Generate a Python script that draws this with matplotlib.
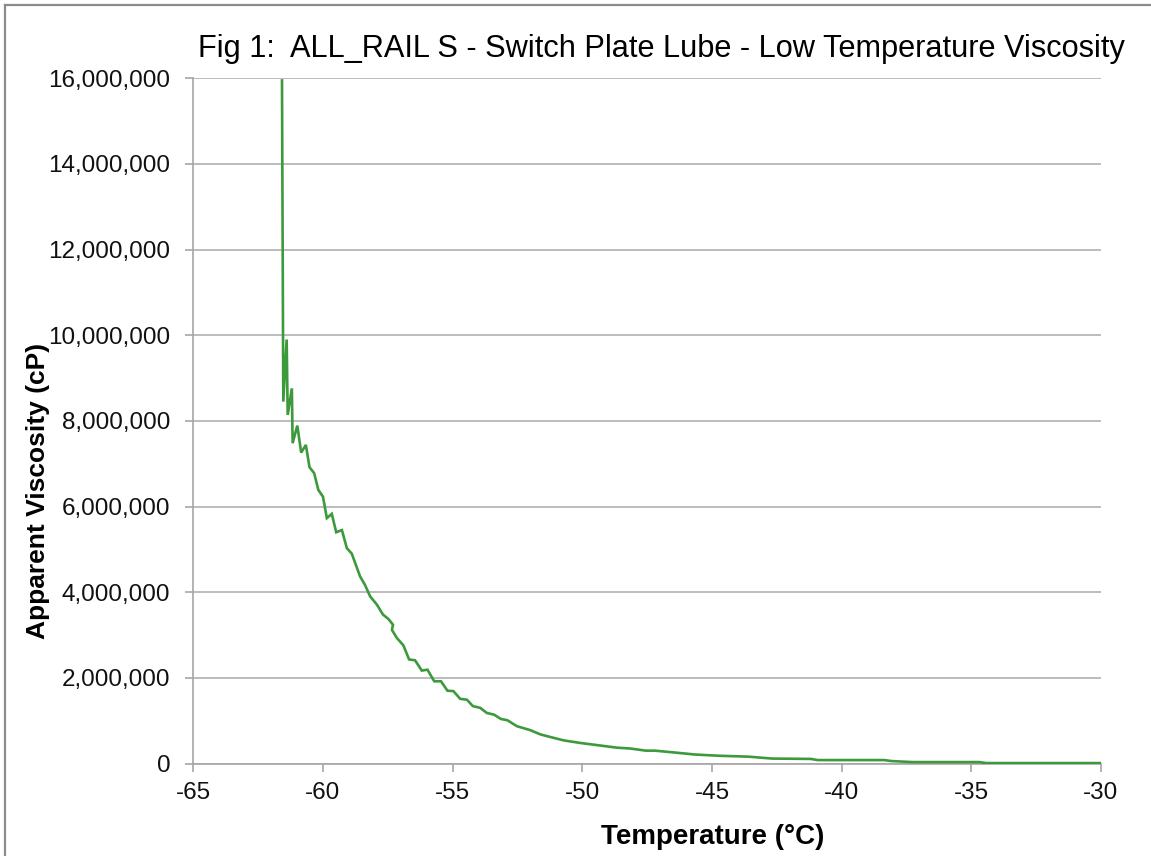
import matplotlib
matplotlib.use("Agg")
import matplotlib.pyplot as plt
from matplotlib.ticker import FuncFormatter
from matplotlib.lines import Line2D

plt.rcParams['font.family'] = ['Liberation Sans', 'DejaVu Sans']

# ---- data ----
temperature_c = [-61.58, -61.53, -61.40, -61.36, -61.20, -61.17, -60.99, -60.84, -60.66,
                 -60.52, -60.34, -60.18, -60.00, -59.85, -59.66, -59.49, -59.27, -59.08,
                 -58.89, -58.57, -58.38, -58.18, -57.92, -57.69, -57.47, -57.30, -57.34,
                 -57.15, -56.90, -56.68, -56.45, -56.19, -55.97, -55.71, -55.45, -55.20,
                 -54.97, -54.71, -54.45, -54.22, -53.94, -53.68, -53.40, -53.14, -52.89,
                 -52.52, -52.01, -51.62, -51.11, -50.72, -50.08, -49.44, -48.67, -48.15,
                 -47.55, -47.20, -46.33, -45.66, -44.70, -43.60, -42.68, -41.19, -40.92,
                 -38.35, -38.08, -37.26, -34.69, -34.42, -30.00]
viscosity_cp = [15950000, 8450000, 9900000, 8140000, 8760000, 7480000, 7890000, 7260000, 7440000,
                6920000, 6780000, 6390000, 6230000, 5730000, 5830000, 5400000, 5450000, 5030000,
                4900000, 4370000, 4170000, 3900000, 3710000, 3480000, 3370000, 3240000, 3120000,
                2930000, 2760000, 2430000, 2410000, 2170000, 2190000, 1920000, 1920000, 1700000,
                1690000, 1510000, 1490000, 1340000, 1300000, 1180000, 1140000, 1040000, 1010000,
                870000, 780000, 680000, 600000, 540000, 480000, 430000, 370000, 350000,
                300000, 300000, 250000, 210000, 180000, 160000, 115000, 107000, 80000,
                80000, 57000, 33000, 33000, 10000, 10000]
x_ticks = [-65, -60, -55, -50, -45, -40, -35, -30]
y_ticks = [0, 2000000, 4000000, 6000000, 8000000, 10000000, 12000000, 14000000, 16000000]
title_text = "Fig 1:  ALL_RAIL S - Switch Plate Lube - Low Temperature Viscosity"
x_label = "Temperature (°C)"
y_label = "Apparent Viscosity (cP)"

W, H = 1151, 856
fig = plt.figure(figsize=(W / 100, H / 100), dpi=100)
fig.patch.set_facecolor('white')

ax_l, ax_r, ax_t, ax_b = 193.3, 1101.0, 78.3, 763.5
ax = fig.add_axes([ax_l / W, 1 - ax_b / H, (ax_r - ax_l) / W, (ax_b - ax_t) / H])

ax.plot(temperature_c, viscosity_cp, color='#3c9a3c', lw=1.9, solid_joinstyle='miter', zorder=3)

ax.set_xlim(-65, -30)
ax.set_ylim(0, 16000000)
ax.set_xticks(x_ticks)
ax.set_yticks(y_ticks)
ax.yaxis.set_major_formatter(FuncFormatter(lambda v, p: f"{int(v):,}"))
ax.xaxis.set_major_formatter(FuncFormatter(lambda v, p: f"{int(v)}"))

grid_c = '#b0b0b0'
ax.yaxis.grid(True, color=grid_c, lw=1.2, zorder=1)
ax.xaxis.grid(False)
ax.set_axisbelow(True)
for s in ['top', 'right']:
    ax.spines[s].set_visible(False)
for s in ['left', 'bottom']:
    ax.spines[s].set_color('#a6a6a6')
    ax.spines[s].set_linewidth(1.2)

ax.tick_params(axis='both', direction='out', length=6, width=1.2, color='#a6a6a6',
               labelsize=17.5, labelcolor='#111111')
ax.tick_params(axis='y', pad=10.5)
ax.tick_params(axis='x', pad=7)

fig.text(198 / W, 1 - 57.3 / H, title_text, fontsize=22.15, ha='left', va='baseline', color='black')
fig.text(713 / W, 1 - 844 / H, x_label, fontsize=20, fontweight='bold', ha='center',
         va='baseline', color='black')
fig.text(38 / W, 1 - 491 / H, y_label, fontsize=19, fontweight='bold', ha='center',
         va='center', rotation=90, color='black')

# outer chart border (top and left visible)
bc = '#8c8c8c'
fig.add_artist(Line2D([4.5 / W, 1.0], [1 - 4.5 / H, 1 - 4.5 / H], transform=fig.transFigure,
                      color=bc, lw=1.6))
fig.add_artist(Line2D([4.5 / W, 4.5 / W], [0.0, 1 - 4.5 / H], transform=fig.transFigure,
                      color=bc, lw=1.6))

fig.savefig('out.png', dpi=100, facecolor='white')
